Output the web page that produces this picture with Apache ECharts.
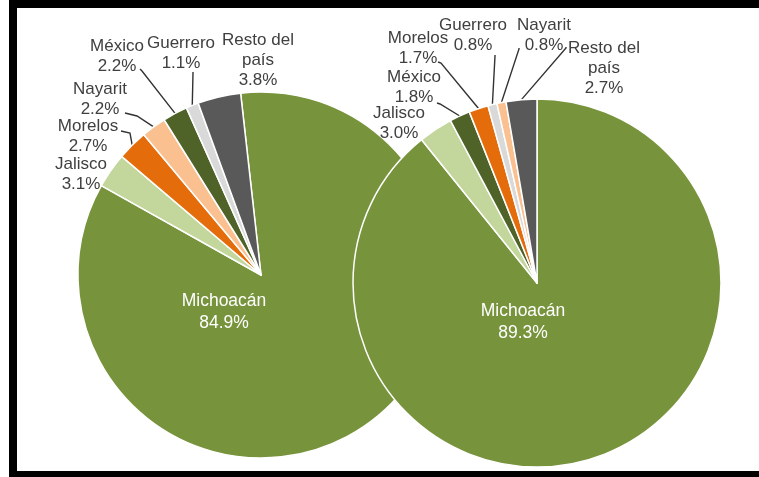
<!DOCTYPE html>
<html>
<head>
	<meta charset="UTF-8">
	<title>Participación por estado</title>
	<script src="https://cdn.jsdelivr.net/npm/echarts@6/dist/echarts.min.js"></script>
	<style>
		body { margin: 0; background: #fff; }
		#main { width: 759px; height: 477px; }
	</style>
</head>
<body>
	<div id="main"></div>
	<script>

	// pastel izquierdo
	var estadosA = ['Michoacán', 'Jalisco', 'Morelos', 'Nayarit', 'México', 'Guerrero', 'Resto del país'];
	var valoresA = [84.9, 3.1, 2.7, 2.2, 2.2, 1.1, 3.8];
	// pastel derecho
	var estadosB = ['Michoacán', 'Jalisco', 'México', 'Morelos', 'Guerrero', 'Nayarit', 'Resto del país'];
	var valoresB = [89.3, 3.0, 1.8, 1.7, 0.8, 0.8, 2.7];

	var colores = {
		'Michoacán': '#77933c',
		'Jalisco': '#c3d69b',
		'Morelos': '#e46c0a',
		'Nayarit': '#fac090',
		'México': '#4f6228',
		'Guerrero': '#d9d9d9',
		'Resto del país': '#595959'
	};

	// posicion de etiquetas: [x, y, (codoX, codoY, finX, finY)]
	var etiquetasA = [
		[224, 312],
		[81, 174],
		[88, 136, 130, 133, 121, 131],
		[100, 99, 137, 116, 125, 113],
		[117, 56, 142, 71, 140, 69],
		[181, 53, 193, 73, 193, 72],
		[258, 60]
	];
	var etiquetasB = [
		[523, 322],
		[399, 123],
		[414, 87, 440, 104, 437, 103],
		[418, 48, 441, 63, 438, 62],
		[473, 35, 495, 56, 495, 55],
		[544, 35, 519, 49, 519, 48],
		[604, 68, 566, 48, 566, 47]
	];

	function armarDatos(nombres, valores) {
		var data = [];
		for (var i = 0; i < nombres.length; i++) {
			var item = {
				name: nombres[i],
				value: valores[i],
				itemStyle: { color: colores[nombres[i]] }
			};
			if (nombres[i] == 'Michoacán') {
				item.label = { position: 'inside', color: '#fff', fontSize: 17.5, lineHeight: 22 };
				item.labelLine = { show: false };
			} else if (nombres[i] == 'Jalisco' || nombres[i] == 'Resto del país' && nombres === estadosA) {
				item.labelLine = { show: false };
			}
			data.push(item);
		}
		return data;
	}

	function colocar(spots) {
		return function(params) {
			var s = spots[params.dataIndex];
			var out = { x: s[0], y: s[1], align: 'center', verticalAlign: 'middle' };
			if (s.length > 2 && params.labelLinePoints) {
				out.labelLinePoints = [params.labelLinePoints[0], [s[2], s[3]], [s[4], s[5]]];
			}
			return out;
		};
	}

	function serie(nombres, valores, centro, radio, inicio, spots) {
		return {
			type: 'pie',
			center: centro,
			radius: radio,
			startAngle: inicio,
			clockwise: true,
			avoidLabelOverlap: false,
			animation: false,
			emphasis: { disabled: true },
			itemStyle: { borderColor: '#fff', borderWidth: 1.5 },
			label: {
				show: true,
				position: 'outside',
				color: '#404040',
				fontFamily: 'Liberation Sans',
				fontSize: 17,
				lineHeight: 20,
				formatter: function(p) {
					return p.name.replace('Resto del ', 'Resto del\n') + '\n' + p.value.toFixed(1) + '%';
				}
			},
			labelLine: {
				show: true,
				lineStyle: { color: '#333', width: 1.4 }
			},
			labelLayout: colocar(spots),
			data: armarDatos(nombres, valores)
		};
	}

	var myChart = echarts.init(document.getElementById('main'));
	myChart.setOption({
		backgroundColor: '#fff',
		graphic: [
			{ type: 'rect', shape: { x: 9, y: 0, width: 8, height: 477 }, style: { fill: '#000' } },
			{ type: 'rect', shape: { x: 9, y: 0, width: 750, height: 8 }, style: { fill: '#000' } },
			{ type: 'rect', shape: { x: 9, y: 471, width: 750, height: 6 }, style: { fill: '#000' } }
		],
		series: [
			serie(estadosA, valoresA, [261, 275], 183, 96.4, etiquetasA),
			serie(estadosB, valoresB, [537, 283], 184, 90, etiquetasB)
		]
	});
	</script>
</body>
</html>
